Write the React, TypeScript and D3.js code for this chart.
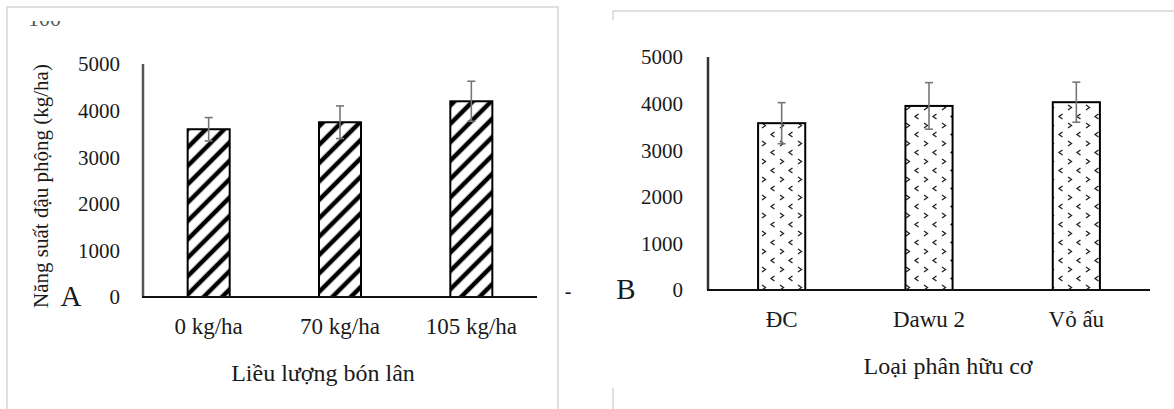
import React from "react";
import { scaleBand, scaleLinear } from "d3";

// panel A - phosphorus dose
const doseLabels = ["0 kg/ha", "70 kg/ha", "105 kg/ha"];
const doseYield = [3600, 3750, 4200];
const doseErr = [250, 350, 430];

// panel B - organic fertilizer type
const organicLabels = ["ĐC", "Dawu 2", "Vỏ ấu"];
const organicYield = [3580, 3950, 4030];
const organicErr = [440, 500, 430];

const yTicks = [0, 1000, 2000, 3000, 4000, 5000];

const FONT = "'Liberation Serif', 'Times New Roman', serif";
const INK = "#1a1a1a";

type PanelProps = {
  labels: string[];
  values: number[];
  errs: number[];
  x0: number;
  x1: number;
  yBase: number;
  yTop: number;
  tickRight: number;
  fill: string;
  yAxisColor: string;
  xTitle: string;
  xTitleX: number;
  letter: string;
  letterX: number;
};

const Panel = (p: PanelProps) => {
  const x = scaleBand<string>()
    .domain(p.labels)
    .range([p.x0, p.x1])
    .paddingInner(0.68)
    .paddingOuter(0.34);
  const y = scaleLinear().domain([0, 5000]).range([p.yBase, p.yTop]);
  const bw = x.bandwidth();

  return (
    <g>
      {yTicks.map((t) => (
        <text
          key={t}
          x={p.tickRight}
          y={y(t)}
          dy="0.35em"
          textAnchor="end"
          fontSize={21}
          fill={INK}
        >
          {t}
        </text>
      ))}
      {p.labels.map((c, i) => {
        const cx = (x(c) as number) + bw / 2;
        return (
          <g key={c}>
            <rect
              x={x(c)}
              y={y(p.values[i])}
              width={bw}
              height={p.yBase - y(p.values[i])}
              fill={p.fill}
              stroke="#000"
              strokeWidth={2}
            />
            <g stroke="#777" strokeWidth={1.6}>
              <line x1={cx} x2={cx} y1={y(p.values[i] + p.errs[i])} y2={y(p.values[i] - p.errs[i])} />
              <line x1={cx - 4} x2={cx + 4} y1={y(p.values[i] + p.errs[i])} y2={y(p.values[i] + p.errs[i])} />
              <line x1={cx - 4} x2={cx + 4} y1={y(p.values[i] - p.errs[i])} y2={y(p.values[i] - p.errs[i])} />
            </g>
            <text x={cx} y={p.yBase + 37} textAnchor="middle" fontSize={23} fill={INK}>
              {c}
            </text>
          </g>
        );
      })}
      <line x1={p.x0} x2={p.x0} y1={p.yTop} y2={p.yBase} stroke={p.yAxisColor} strokeWidth={2.5} />
      <line x1={p.x0 - 1} x2={p.x1} y1={p.yBase} y2={p.yBase} stroke="#111" strokeWidth={2} />
      <text x={p.xTitleX} y={p.yBase + 84} textAnchor="middle" fontSize={24} fill={INK}>
        {p.xTitle}
      </text>
      <text x={p.letterX} y={p.yBase + 9} textAnchor="middle" fontSize={29} fill={INK}>
        {p.letter}
      </text>
    </g>
  );
};

const App = () => {
  return (
    <svg
      width={1174}
      height={409}
      style={{ position: "absolute", left: 0, top: 0, background: "#fff" }}
      fontFamily={FONT}
    >
      <defs>
        <pattern id="hatch" width={13} height={13} patternUnits="userSpaceOnUse" patternTransform="rotate(45)">
          <rect width={13} height={13} fill="#fff" />
          <line x1={3} x2={3} y1={0} y2={13} stroke="#000" strokeWidth={4.5} />
        </pattern>
        <pattern id="chev" width={18} height={18} patternUnits="userSpaceOnUse" x={760} y={121}>
          <rect width={18} height={18} fill="#fff" />
          <g fill="none" stroke="#222" strokeWidth={1.3}>
            <path d="M2,2 L5.5,4.5 L2,7" />
            <path d="M14.5,11 L11,13.5 L14.5,16" />
          </g>
        </pattern>
        <clipPath id="topcut">
          <rect x={0} y={21} width={120} height={8} />
        </clipPath>
      </defs>

      {/* page frames */}
      <g stroke="#d6d6d6" strokeWidth={1.5} fill="none">
        <polyline points="7,409 7,7 558,7 558,409" />
        <polyline points="613,20 613,11 1174,11" />
        <line x1={613} x2={613} y1={388} y2={409} />
      </g>
      <text x={28} y={26} fontSize={22} fill="#555" clipPath="url(#topcut)">
        100
      </text>

      <Panel
        labels={doseLabels}
        values={doseYield}
        errs={doseErr}
        x0={143}
        x1={537}
        yBase={297}
        yTop={64}
        tickRight={120}
        fill="url(#hatch)"
        yAxisColor="#555"
        xTitle="Liều lượng bón lân"
        xTitleX={323}
        letter="A"
        letterX={71}
      />
      <text
        transform="translate(48,186) rotate(-90)"
        textAnchor="middle"
        fontSize={21}
        fill={INK}
      >
        Năng suất đậu phộng (kg/ha)
      </text>
      <text x={568} y={298} textAnchor="middle" fontSize={20} fill={INK}>
        -
      </text>

      <Panel
        labels={organicLabels}
        values={organicYield}
        errs={organicErr}
        x0={708}
        x1={1150}
        yBase={290}
        yTop={57}
        tickRight={683}
        fill="url(#chev)"
        yAxisColor="#333"
        xTitle="Loại phân hữu cơ"
        xTitleX={948}
        letter="B"
        letterX={626}
      />
    </svg>
  );
};

export default App;
